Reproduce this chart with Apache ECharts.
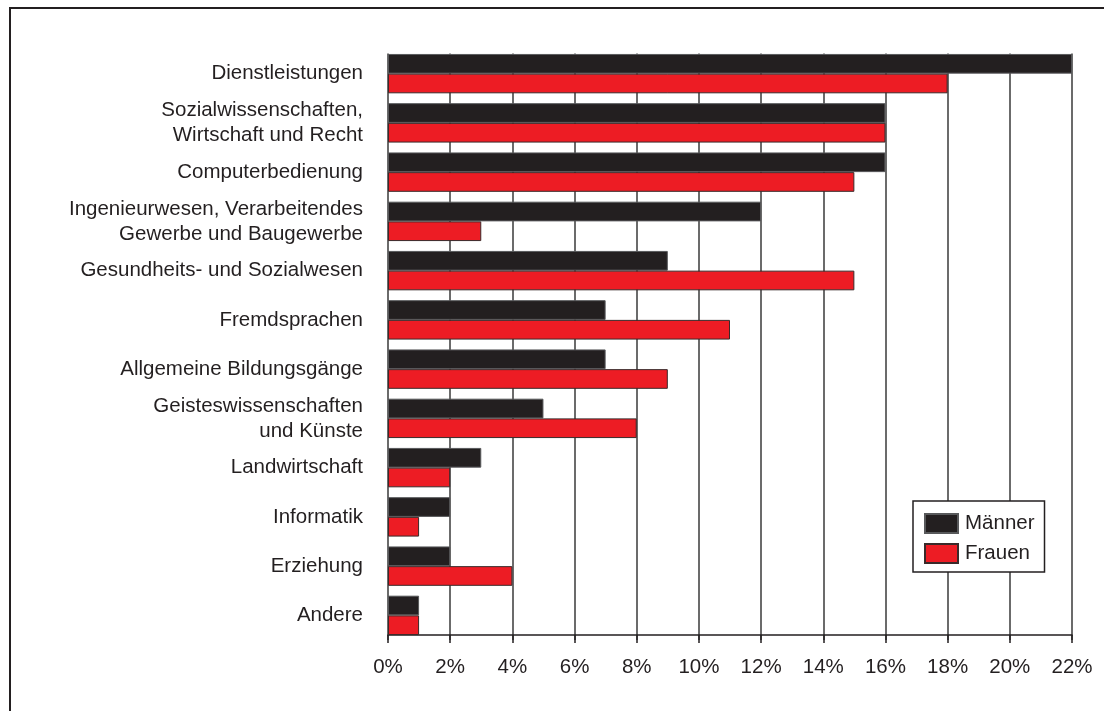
<!DOCTYPE html>
<html>
<head>
<meta charset="utf-8">
<script src="https://cdn.jsdelivr.net/npm/echarts@6/dist/echarts.min.js"></script>
<style>
  html, body { margin: 0; padding: 0; background: #fff; }
  #chartData { width: 1104px; height: 711px; }
</style>
</head>
<body>
<div id="chartData"></div>
<script>
// Kategorien von oben nach unten
var categories = [
    'Dienstleistungen',
    'Sozialwissenschaften,\nWirtschaft und Recht',
    'Computerbedienung',
    'Ingenieurwesen, Verarbeitendes\nGewerbe und Baugewerbe',
    'Gesundheits- und Sozialwesen',
    'Fremdsprachen',
    'Allgemeine Bildungsgänge',
    'Geisteswissenschaften\nund Künste',
    'Landwirtschaft',
    'Informatik',
    'Erziehung',
    'Andere'
];
var maenner = [22, 16, 16, 12, 9, 7, 7, 5, 3, 2, 2, 1];
var frauen = [18, 16, 15, 3, 15, 11, 9, 8, 2, 1, 4, 1];
var legends = ['Männer', 'Frauen'];

var colors = ['#231f20', '#ed1c24'];
var font = '"Liberation Sans", Arial, sans-serif';

var myChart = echarts.init(document.getElementById('chartData'));

var option = {
    color: colors,
    animation: false,
    textStyle: { fontFamily: font },
    grid: {
        left: 388,
        right: 32,
        top: 49,
        bottom: 71
    },
    legend: {
        data: legends,
        orient: 'vertical',
        left: 913,
        top: 501,
        padding: [12, 10, 8, 11],
        itemWidth: 33,
        itemHeight: 19,
        itemGap: 9,
        borderColor: '#231f20',
        borderWidth: 1.5,
        backgroundColor: '#fff',
        icon: 'rect',
        textStyle: { fontSize: 20.5, color: '#231f20', fontFamily: font, padding: [0, 0, 0, 2] }
    },
    xAxis: {
        type: 'value',
        min: 0,
        max: 22,
        interval: 2,
        offset: -5,
        axisLine: { show: true, lineStyle: { color: '#231f20', width: 1.5 } },
        axisTick: { show: true, length: 8, lineStyle: { color: '#231f20', width: 1.5 } },
        axisLabel: {
            formatter: '{value}%',
            fontSize: 20.5,
            color: '#231f20',
            margin: 22,
            fontFamily: font
        },
        splitLine: { show: true, lineStyle: { color: '#3a3a3a', width: 1.5 } }
    },
    yAxis: {
        type: 'category',
        inverse: true,
        data: categories,
        axisLine: { show: false },
        axisTick: { show: false },
        axisLabel: {
            fontSize: 20.5,
            lineHeight: 25,
            color: '#231f20',
            margin: 25,
            fontFamily: font
        }
    },
    series: [
        {
            name: legends[0],
            type: 'bar',
            data: maenner,
            barGap: '0%',
            barCategoryGap: '20%',
            itemStyle: { color: colors[0], borderColor: '#58595b', borderWidth: 1 }
        },
        {
            name: legends[1],
            type: 'bar',
            data: frauen,
            barGap: '0%',
            barCategoryGap: '20%',
            itemStyle: { color: colors[1], borderColor: '#3a2a2a', borderWidth: 1 }
        }
    ],
    graphic: [{
        // Rahmen links und oben
        type: 'polyline',
        shape: { points: [[10, 711], [10, 8], [1104, 8]] },
        style: { stroke: '#231f20', lineWidth: 2, fill: null }
    }, {
        // Gitterlinien sollen erst am ersten Balken beginnen
        type: 'rect',
        z: 100,
        shape: { x: 380, y: 44, width: 700, height: 9.5 },
        style: { fill: '#fff' }
    }]
};

myChart.setOption(option);
</script>
</body>
</html>
